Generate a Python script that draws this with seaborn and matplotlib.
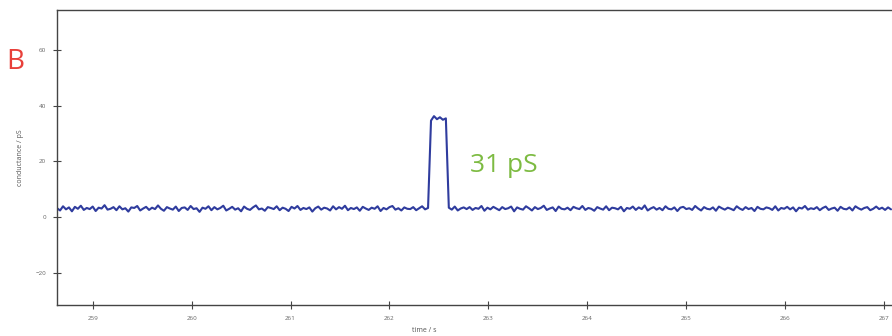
import numpy as np
import matplotlib
matplotlib.use("Agg")
import matplotlib.pyplot as plt
import seaborn as sns

# single channel recording, conductance trace
t_start = 258.64
dt = 0.03
conductance = [
    3.2, 2.4, 3.9, 2.8, 3.5, 2.1, 3.7, 3.0, 4.1, 2.6, 3.3, 2.9, 3.8, 2.2, 3.4, 3.1, 4.3, 2.7, 3.0, 3.6,
    2.5, 3.9, 2.8, 3.2, 2.0, 3.5, 3.3, 4.0, 2.4, 3.1, 3.7, 2.6, 3.4, 2.9, 4.2, 3.0, 2.3, 3.6, 3.1, 2.7,
    3.8, 2.2, 3.3, 3.5, 2.6, 4.0, 2.9, 3.2, 1.9, 3.4, 3.0, 3.9, 2.5, 3.6, 2.8, 3.3, 4.1, 2.4, 3.0, 3.7,
    2.7, 3.2, 2.1, 3.8, 3.0, 2.6, 3.5, 4.2, 2.8, 3.1, 2.3, 3.6, 3.3, 2.9, 3.9, 2.5, 3.4, 3.0, 2.2, 3.7,
    3.1, 4.0, 2.6, 3.3, 2.9, 3.5, 2.0, 3.2, 3.8, 2.7, 3.4, 3.1, 2.4, 3.9, 2.8, 3.6, 3.0, 4.1, 2.5, 3.3,
    2.9, 3.5, 2.3, 3.7, 3.1, 2.6, 3.4, 3.0, 3.9, 2.2, 3.3, 2.8, 3.6, 4.0, 2.7, 3.2, 2.4, 3.5, 3.0, 2.9,
    3.6, 2.5, 3.2, 3.9, 2.8, 3.3, 34.6, 36.2, 35.1, 35.8, 34.9, 35.4, 3.4, 2.7, 3.8, 2.4, 3.1, 3.5, 2.9, 3.6,
    2.6, 3.3, 3.0, 4.0, 2.3, 3.4, 2.8, 3.7, 3.1, 2.5, 3.6, 2.9, 3.2, 3.8, 2.1, 3.5, 3.0, 2.7, 3.9, 3.2,
    2.4, 3.6, 2.9, 3.3, 4.1, 2.6, 3.1, 3.5, 2.2, 3.8, 3.0, 2.8, 3.4, 2.5, 3.7, 3.2, 2.9, 4.0, 2.6, 3.3,
    3.0, 2.3, 3.6, 3.1, 2.7, 3.9, 2.5, 3.4, 3.2, 2.8, 3.7, 2.1, 3.3, 3.0, 3.8, 2.6, 3.5, 2.9, 4.2, 2.4,
    3.1, 3.6, 2.7, 3.3, 2.5, 3.9, 3.0, 2.8, 3.5, 2.2, 3.4, 3.7, 2.9, 3.2, 2.6, 4.0, 3.1, 2.4, 3.6, 3.0,
    2.8, 3.5, 2.3, 3.8, 3.2, 2.7, 3.4, 3.0, 2.5, 3.9, 3.1, 2.6, 3.6, 2.9, 3.3, 2.2, 3.7, 3.0, 2.8, 3.5,
    3.2, 2.6, 3.9, 2.4, 3.3, 3.0, 3.7, 2.8, 3.5, 2.1, 3.4, 3.1, 4.0, 2.7, 3.2, 2.9, 3.6, 2.5, 3.3, 3.8,
    2.6, 3.1, 3.4, 2.3, 3.7, 3.0, 2.8, 3.5, 2.4, 3.9, 3.2, 2.7, 3.3, 3.6, 2.5, 3.0, 3.8, 2.9, 3.4, 2.6,
    3.5, 2.8,
]
time = t_start + dt * np.arange(len(conductance))

x_ticks = [259, 260, 261, 262, 263, 264, 265, 266, 267]
y_ticks = [-20, 0, 20, 40, 60]

sns.set_style("white")
plt.rcParams['font.family'] = ['Open Sans', 'DejaVu Sans']

fig = plt.figure(figsize=(8.92, 3.36), dpi=100)
ax = fig.add_axes([0.064, 0.092, 0.936, 0.878])

sns.lineplot(x=time, y=conductance, ax=ax, color='#2f3c9e', linewidth=1.5)

ax.set_xlim(258.64, 267.08)
ax.set_ylim(-31.5, 74.2)
ax.set_xticks(x_ticks)
ax.set_yticks(y_ticks)
ax.tick_params(bottom=True, left=True, direction='inout', length=6, width=0.8,
               colors='#444444', labelsize=4.5, labelcolor='#666666', pad=5)
ax.set_xlabel('time / s', fontsize=5, color='#555555', labelpad=2)
ax.set_ylabel('conductance / pS', fontsize=5, color='#555555', labelpad=8)
ax.xaxis.set_label_coords(0.44, -0.075)

for side in ['left', 'top', 'bottom']:
    ax.spines[side].set_color('#444444')
    ax.spines[side].set_linewidth(1.0)
ax.spines['right'].set_visible(False)

fig.text(15 / 892, 1 - 62 / 336, 'B', color='#e8403a', fontsize=20,
         ha='center', va='center')
ax.text(263.16, 18.6, '31 pS', color='#7dbb42', fontsize=19,
        ha='center', va='center')

fig.savefig('out.png', dpi=100)
